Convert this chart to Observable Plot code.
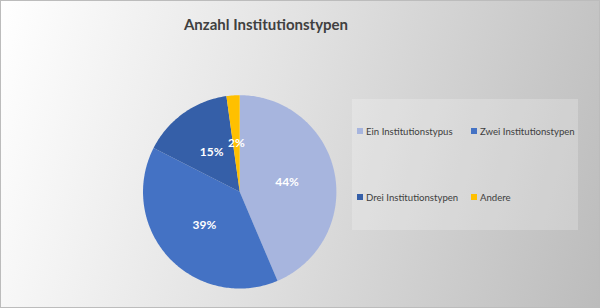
<!DOCTYPE html>
<html><head><meta charset="utf-8">
<script src="https://cdn.jsdelivr.net/npm/d3@7"></script>
<script src="https://cdn.jsdelivr.net/npm/@observablehq/plot@0.6"></script>
<style>
html,body{margin:0;padding:0;}
#wrap{position:relative;width:600px;height:308px;box-sizing:border-box;border:1px solid #bcbcbc;
 background:linear-gradient(105deg,#ffffff 0%,#e2e2e2 45%,#bcbcbc 100%);font-family:Lato,"Open Sans",sans-serif;overflow:hidden;}
#title{position:absolute;left:0;width:530px;top:14px;text-align:center;font-weight:bold;font-size:15px;color:#404040;}
#chart{position:absolute;left:0;top:0;}
#legend{position:absolute;left:351px;top:98px;width:226px;height:131px;background:rgba(255,255,255,0.22);}
.item{position:absolute;font-size:9.6px;color:#404040;white-space:nowrap;line-height:12px;}
.sw{display:inline-block;width:6px;height:6px;margin-right:3px;vertical-align:1px;}
</style></head>
<body>
<div id="wrap">
<div id="chart"></div>
<div id="title">Anzahl Institutionstypen</div>
<div id="legend"></div>
</div>
<script>
const categories = ["Ein Institutionstypus","Zwei Institutionstypen","Drei Institutionstypen","Andere"];
const shares = [43.6, 38.9, 15.3, 2.2];
const colors = ["#a7b5de","#4472c4","#355fa8","#ffc000"];

const total = d3.sum(shares);
let acc = 0;
const slices = categories.map((c,i)=>{
  const a0 = acc/total*2*Math.PI; acc += shares[i];
  const a1 = acc/total*2*Math.PI;
  return {category:c, value:shares[i], a0, a1, mid:(a0+a1)/2};
});
const pts = [];
for (const s of slices) {
  pts.push({category:s.category, x:0, y:0});
  const n = Math.max(2, Math.ceil((s.a1-s.a0)/(Math.PI/180)));
  for (let k=0;k<=n;k++){ const a = s.a0+(s.a1-s.a0)*k/n; pts.push({category:s.category, x:Math.sin(a), y:Math.cos(a)}); }
}
const labels = slices.map(s=>({x:0.5*Math.sin(s.mid), y:0.5*Math.cos(s.mid), text:Math.round(s.value)+"%"}));

const cx = 239, cy = 191, R = 97;
const chart = Plot.plot({
  width:600, height:306, margin:0,
  style:{background:"transparent", fontFamily:"Lato, sans-serif"},
  x:{domain:[-1,1], range:[cx-R, cx+R], axis:null},
  y:{domain:[-1,1], range:[cy+R, cy-R], axis:null},
  color:{domain:categories, range:colors},
  marks:[
    Plot.line(pts,{x:"x", y:"y", z:"category", fill:"category", stroke:null, curve:"linear-closed"}),
    Plot.text(labels,{x:"x", y:"y", text:"text", fill:"white", fontWeight:"bold", fontSize:12})
  ]
});
document.getElementById("chart").appendChild(chart);

const pos = [[5,27],[119,27],[5,93],[119,93]];
const lg = document.getElementById("legend");
categories.forEach((c,i)=>{
  const d = document.createElement("div"); d.className="item";
  d.style.left=pos[i][0]+"px"; d.style.top=pos[i][1]+"px";
  d.innerHTML = `<span class="sw" style="background:${colors[i]}"></span>${c}`;
  lg.appendChild(d);
});
</script>
</body></html>
